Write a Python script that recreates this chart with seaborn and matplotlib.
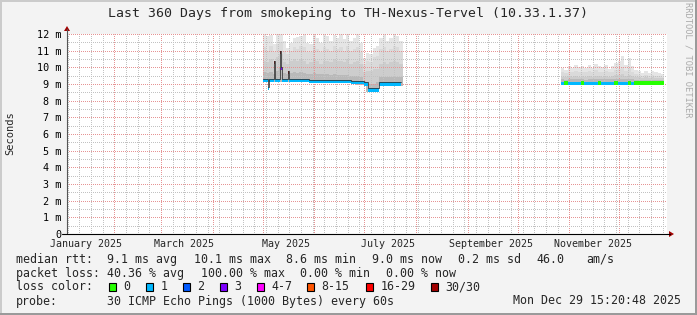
import numpy as np
import pandas as pd
import matplotlib
matplotlib.use("Agg")
import matplotlib.pyplot as plt
import matplotlib.dates as mdates
from matplotlib.ticker import MultipleLocator
from matplotlib.patches import Rectangle, Polygon
from matplotlib.lines import Line2D
import seaborn as sns

# ---------------- data ----------------
title = "Last 360 Days from smokeping to TH-Nexus-Tervel (10.33.1.37)"
graph_end = "2025-12-29 15:20:48"
graph_days = 360

ytick_values = list(range(13))
ytick_labels = ["0"] + [f"{v} m" for v in range(1, 13)]
xlabel_dates = ["2025-01-15", "2025-03-15", "2025-05-15", "2025-07-15", "2025-09-15", "2025-11-15"]
xlabel_texts = ["January 2025", "March 2025", "May 2025", "July 2025", "September 2025", "November 2025"]

loss_labels = ["0", "1", "2", "3", "4-7", "8-15", "16-29", "30/30"]
loss_colors = ["#26ff00", "#00b8ff", "#0059ff", "#7e00ff", "#ff00ff", "#ff5500", "#ff0000", "#a10000"]

smoke_bin_days = 2

# segment 1 smoke (ms), 2-day bins from 2025-05-01
smoke1_start = "2025-05-01"
smoke1_top = [11.98, 11.88, 11.94, 11.38, 11.98, 12.05, 11.58, 11.18, 11.48, 11.78, 11.82, 11.88, 11.98, 11.48,
              11.38, 11.98, 11.78, 11.48, 11.94, 11.88, 11.58, 11.94, 11.78, 11.98, 11.68, 11.98, 11.58, 11.78,
              11.98, 11.48, 10.58, 10.88, 10.78, 11.18, 11.28, 11.78, 11.98, 11.58, 11.78, 11.98, 11.88, 11.58]
smoke1_upper = [11.2, 11.0, 11.3, 10.9, 11.4, 11.5, 11.0, 10.8, 11.0, 11.2, 11.1, 11.3, 11.2, 10.9,
                10.9, 11.3, 11.1, 10.9, 11.2, 11.1, 11.0, 11.3, 11.1, 11.2, 11.0, 11.3, 11.0, 11.1,
                11.2, 10.9, 10.2, 10.4, 10.3, 10.6, 10.7, 11.1, 11.2, 11.0, 11.1, 11.3, 11.2, 11.0]
smoke1_mid = [10.4, 10.3, 10.5, 10.2, 10.6, 10.8, 10.3, 10.2, 10.4, 10.5, 10.4, 10.5, 10.4, 10.2,
              10.3, 10.5, 10.4, 10.2, 10.4, 10.4, 10.3, 10.5, 10.4, 10.4, 10.3, 10.5, 10.2, 10.3,
              10.4, 10.2, 9.7, 9.8, 9.8, 9.9, 9.9, 10.2, 10.3, 10.2, 10.3, 10.4, 10.3, 10.2]
smoke1_dense = [9.7, 9.65, 9.7, 9.6, 9.8, 10.0, 9.65, 9.6, 9.65, 9.7, 9.65, 9.7, 9.65, 9.6,
                9.6, 9.65, 9.6, 9.6, 9.6, 9.6, 9.55, 9.6, 9.55, 9.55, 9.55, 9.55, 9.5, 9.5,
                9.5, 9.45, 9.2, 9.0, 9.0, 9.0, 9.1, 9.4, 9.45, 9.4, 9.4, 9.45, 9.4, 9.4]
smoke1_min = [9.1, 9.1, 9.1, 9.1, 9.1, 9.1, 9.1, 9.1, 9.1, 9.1, 9.1, 9.1, 9.1, 9.1,
              9.04, 9.04, 9.04, 9.04, 9.04, 9.04, 9.04, 9.04, 9.04, 9.04, 9.04, 9.04, 9.04, 9.04,
              8.95, 8.95, 8.95, 8.55, 8.55, 8.55, 8.55, 8.9, 8.9, 8.9, 8.9, 8.9, 8.9, 8.9]

# segment 1 median rtt (ms) breakpoints with loss class
med1_dates = ["2025-05-01 00:00", "2025-05-04 00:00", "2025-05-04 14:00", "2025-05-08 00:00",
              "2025-05-08 14:00", "2025-05-11 12:00", "2025-05-12 03:00", "2025-05-12 18:00",
              "2025-05-16 00:00", "2025-05-16 14:00", "2025-05-29 00:00", "2025-06-23 00:00",
              "2025-07-01 00:00", "2025-07-03 00:00", "2025-07-10 00:00", "2025-07-23 00:00"]
med1_vals = [9.30, 8.82, 9.30, 10.38, 9.30, 11.0, 10.05, 9.30, 9.78, 9.30, 9.24, 9.18, 9.10, 8.74, 9.10, 9.10]
med1_loss = [1, 1, 1, 7, 1, 7, 3, 1, 7, 1, 1, 1, 1, 1, 1, 1]

# segment 2 smoke (ms), 2-day bins from 2025-10-27
smoke2_start = "2025-10-27"
smoke2_top = [9.96, 9.86, 10.06, 9.96, 10.16, 10.0, 10.06, 9.96, 10.16, 9.96, 10.2, 10.06, 10.0, 10.16, 9.92,
              10.06, 10.26, 10.36, 10.66, 10.16, 10.56, 10.06, 9.86, 9.76, 9.66, 9.76, 9.66, 9.76, 9.72, 9.66, 9.6]
smoke2_upper = [9.7, 9.65, 9.75, 9.7, 9.8, 9.7, 9.75, 9.7, 9.8, 9.7, 9.85, 9.75, 9.7, 9.8, 9.7,
                9.75, 9.85, 9.9, 10.0, 9.8, 9.95, 9.75, 9.6, 9.55, 9.5, 9.55, 9.5, 9.55, 9.5, 9.5, 9.45]
smoke2_mid = [9.45, 9.45, 9.5, 9.45, 9.5, 9.45, 9.5, 9.45, 9.5, 9.45, 9.5, 9.5, 9.45, 9.5, 9.45,
              9.5, 9.55, 9.55, 9.6, 9.5, 9.55, 9.5, 9.4, 9.4, 9.35, 9.4, 9.35, 9.4, 9.35, 9.35, 9.35]
smoke2_dense = [9.28, 9.27, 9.3, 9.28, 9.3, 9.28, 9.29, 9.27, 9.3, 9.28, 9.3, 9.29, 9.28, 9.3, 9.28,
                9.29, 9.31, 9.31, 9.33, 9.3, 9.32, 9.29, 9.27, 9.27, 9.26, 9.27, 9.26, 9.27, 9.26, 9.26, 9.26]
smoke2_min = [8.95] * 31
med2_vals = [9.12, 9.16, 9.12, 9.12, 9.12, 9.12, 9.16, 9.12, 9.12, 9.12, 9.12, 9.16, 9.12, 9.12, 9.12,
             9.12, 9.16, 9.12, 9.12, 9.12, 9.16, 9.12, 9.16, 9.16, 9.16, 9.16, 9.16, 9.16, 9.16, 9.16, 9.16]
loss2 = [1, 0, 1, 1, 1, 1, 0, 1, 1, 1, 1, 0, 1, 1, 1, 1, 0, 1, 1, 1, 0, 1, 0, 0, 0, 0, 0, 0, 0, 0, 0]

legend_rows = [
    [("median rtt:", 16), ("9.1 ms avg", 107.3), ("10.1 ms max", 194), ("8.6 ms min", 286),
     ("9.0 ms now", 372.3), ("0.2 ms sd", 458.3), ("46.0", 536.7), ("am/s", 586)],
    [("packet loss:", 16), ("40.36 % avg", 107.3), ("100.00 % max", 200.7), ("0.00 % min", 300),
     ("0.00 % now", 386)],
    [("loss color:", 16)],
    [("probe:", 16), ("30 ICMP Echo Pings (1000 Bytes) every 60s", 107.3), ("Mon Dec 29 15:20:48 2025", 512.7)],
]
legend_row_y = [259.5, 273.5, 287.0, 301.0]
loss_box_x = [108.7, 146, 183, 220, 256.7, 307.3, 365.7, 430.7]
loss_text_x = [123.3, 160.7, 197.3, 234, 271, 321.7, 380.7, 445]

# ---------------- style ----------------
sns.set_style("white")
plt.rcParams["font.family"] = ["DejaVu Sans Mono", "DejaVu Sans"]

W, H = 697, 315
fig = plt.figure(figsize=(W / 100, H / 100), dpi=100, facecolor="#f3f3f3")


def fx(px):
    return px / W


def fy(py):
    return 1 - py / H


ax_left, ax_bottom, ax_w, ax_h = 67, 234, 600, 200
ax = fig.add_axes([fx(ax_left), fy(ax_bottom), ax_w / W, ax_h / H])
ax.set_facecolor("white")

end = pd.Timestamp(graph_end)
start = end - pd.Timedelta(days=graph_days)

smoke_colors = ["#e5e5e5", "#dadada", "#cdcdcd", "#b9b9b9"]


def draw_smoke(start_date, layers, low):
    n = len(low)
    edges = pd.date_range(start_date, periods=n + 1, freq=f"{smoke_bin_days}D")
    lo = list(low) + [low[-1]]
    for arr, col in zip(layers, smoke_colors):
        hi = list(arr) + [arr[-1]]
        ax.fill_between(edges, lo, hi, step="post", color=col, lw=0, zorder=1)
    return edges


draw_smoke(smoke1_start, [smoke1_top, smoke1_upper, smoke1_mid, smoke1_dense], smoke1_min)
edges2 = draw_smoke(smoke2_start, [smoke2_top, smoke2_upper, smoke2_mid, smoke2_dense], smoke2_min)

band = 0.2
d1 = pd.to_datetime(med1_dates)
for i in range(len(d1) - 1):
    ax.fill_between([d1[i], d1[i + 1]], [med1_vals[i] - band] * 2, [med1_vals[i]] * 2,
                    color=loss_colors[med1_loss[i]], lw=0, zorder=2.2)
sns.lineplot(x=d1, y=med1_vals, drawstyle="steps-post", color="#303030", lw=0.55, ax=ax, zorder=2.4)

for i in range(len(med2_vals)):
    ax.fill_between([edges2[i], edges2[i + 1]], [med2_vals[i] - band] * 2, [med2_vals[i]] * 2,
                    color=loss_colors[loss2[i]], lw=0, zorder=2.2)

ax.set_xlim(start, end)
ax.set_ylim(0, 12)
ax.set_xlabel("")
ax.set_ylabel("")

# grid (1px on / 1px off dotted lines)
ax.xaxis.set_major_locator(mdates.MonthLocator())
ax.xaxis.set_minor_locator(mdates.WeekdayLocator(byweekday=mdates.SA))
ax.yaxis.set_major_locator(MultipleLocator(1))
ax.yaxis.set_minor_locator(MultipleLocator(0.5))
ax.set_axisbelow("line")
ax.grid(which="major", color="#e69494", linestyle=(0.5, (1, 1)), linewidth=0.72, antialiased=True)
ax.grid(which="minor", color="#c2c2c2", linestyle=(0.5, (1, 1)), linewidth=0.72, antialiased=True)

ax.set_yticks(ytick_values)
ax.set_yticklabels(ytick_labels)
ax.tick_params(axis="y", which="major", length=2.5, width=0.7, color="#888888", pad=1.6,
               labelsize=7.3, labelcolor="black")
ax.tick_params(axis="y", which="minor", length=1.5, width=0.7, color="#bbbbbb")
ax.tick_params(axis="x", which="major", length=2.5, width=0.7, color="#d05050", labelbottom=False)
ax.tick_params(axis="x", which="minor", length=1.5, width=0.7, color="#bbbbbb")
for s in ax.spines.values():
    s.set_visible(False)

for d, t in zip(xlabel_dates, xlabel_texts):
    ax.text(pd.Timestamp(d), -0.05, t, transform=ax.get_xaxis_transform(), ha="center", va="center",
            fontsize=7.2, clip_on=False)

# axes lines and arrows
fig.add_artist(Line2D([fx(67), fx(67)], [fy(234), fy(29)], color="#555555", lw=0.8))
fig.add_artist(Line2D([fx(62), fx(670)], [fy(234), fy(234)], color="black", lw=0.8))
fig.add_artist(Polygon([[fx(64), fy(31)], [fx(70), fy(31)], [fx(67), fy(26)]], closed=True,
                       color="#a00000", lw=0))
fig.add_artist(Polygon([[fx(669), fy(231)], [fx(669), fy(237)], [fx(674), fy(234)]], closed=True,
                       color="#a00000", lw=0))

# texts
fig.text(0.5, fy(13.3), title, ha="center", va="center", fontsize=9.5)
fig.text(fx(10), fy(133), "Seconds", rotation=90, ha="center", va="center", fontsize=7.5)
fig.text(fx(688), fy(60), "RRDTOOL / TOBI OETIKER", rotation=270, ha="center", va="center",
         fontsize=6.3, color="#aaaaaa")

for row, y in zip(legend_rows, legend_row_y):
    for txt, x in row:
        fig.text(fx(x), fy(y), txt, ha="left", va="center", fontsize=8.4)

for lab, col, bx, tx in zip(loss_labels, loss_colors, loss_box_x, loss_text_x):
    fig.add_artist(Rectangle((fx(bx), fy(legend_row_y[2] + 4)), 7 / W, 8 / H, facecolor=col,
                             edgecolor="black", lw=0.8, transform=fig.transFigure))
    fig.text(fx(tx), fy(legend_row_y[2]), lab, ha="left", va="center", fontsize=8.4)

# frame
fig.add_artist(Rectangle((0, fy(2)), 1, 2 / H, facecolor="#cbcbcb", lw=0, transform=fig.transFigure))
fig.add_artist(Rectangle((0, 0), 2 / W, 1, facecolor="#cbcbcb", lw=0, transform=fig.transFigure))
fig.add_artist(Rectangle((0, 0), 1, 2 / H, facecolor="#9a9a9a", lw=0, transform=fig.transFigure))
fig.add_artist(Rectangle((fx(695), 0), 2 / W, 1, facecolor="#9a9a9a", lw=0, transform=fig.transFigure))

fig.savefig("out.png", dpi=100, facecolor=fig.get_facecolor())
